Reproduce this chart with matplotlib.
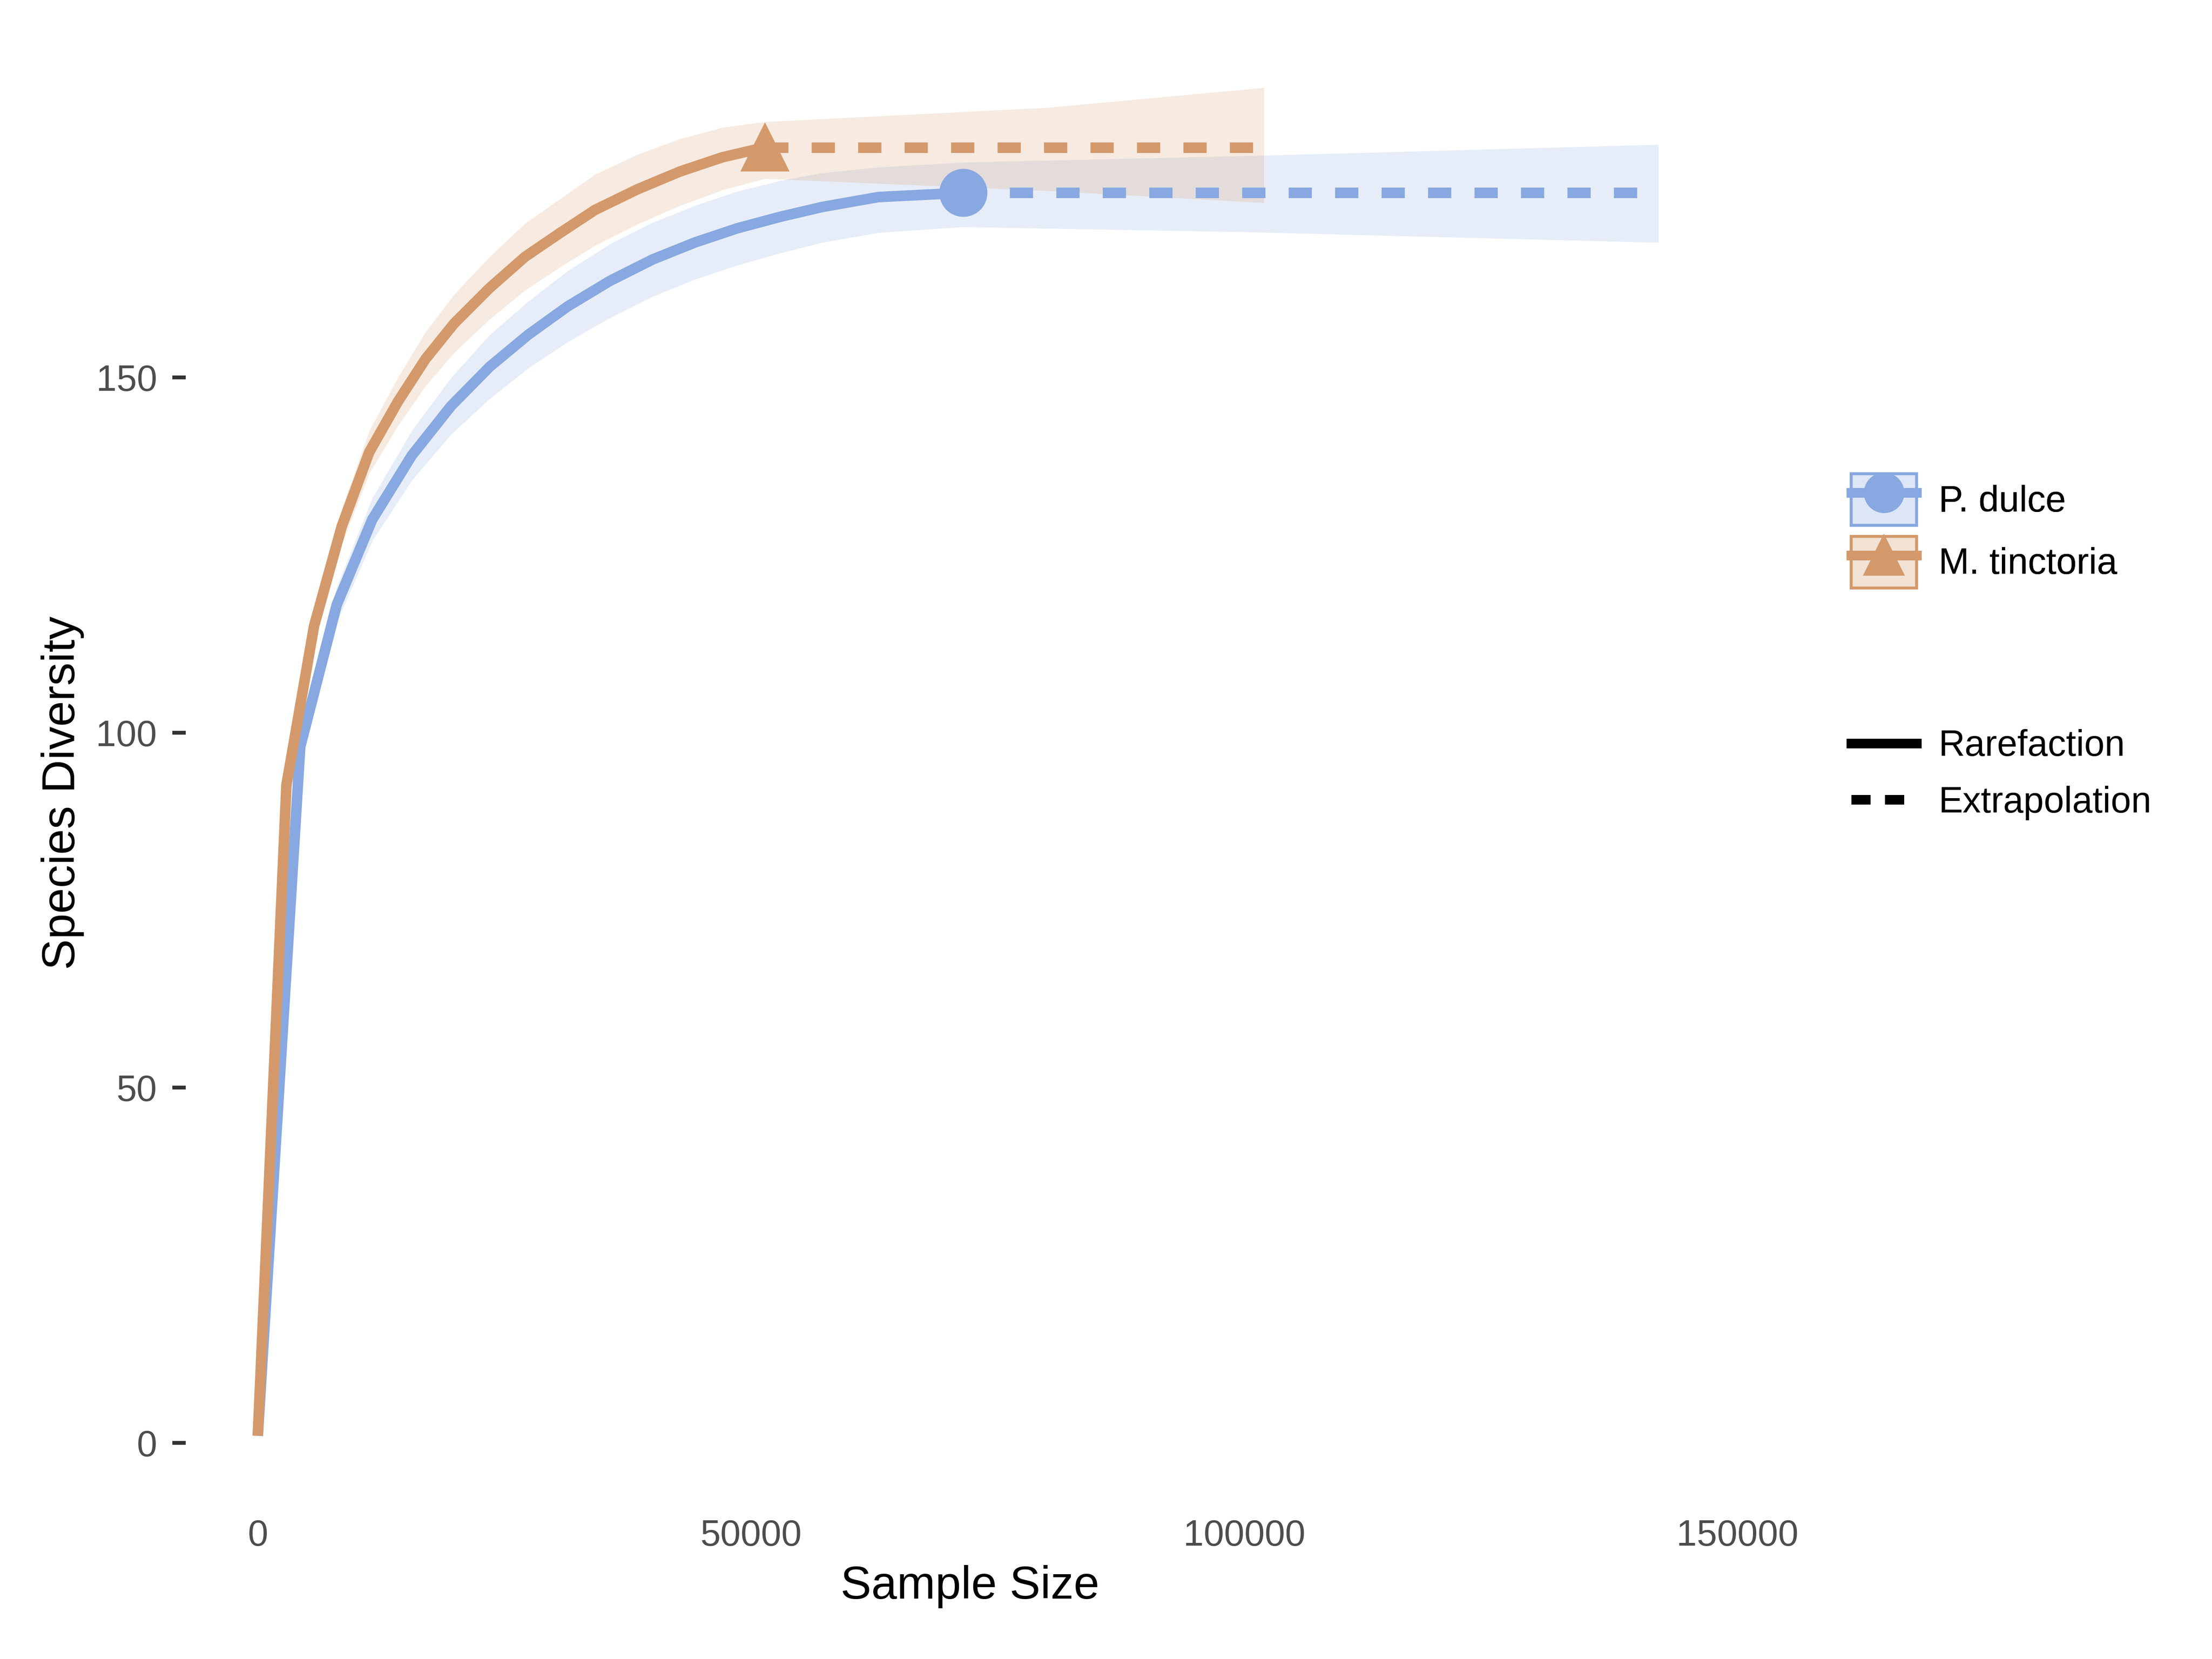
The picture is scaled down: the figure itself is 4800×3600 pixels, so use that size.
import numpy as np
import matplotlib.pyplot as plt
from matplotlib.lines import Line2D
from matplotlib.patches import Patch

plt.rcParams['font.family'] = ['Liberation Sans', 'DejaVu Sans']

# P. dulce (rarefaction part, then extrapolation)
pd_x = [0, 4300, 8000, 11600, 15600, 19600, 23500, 27400, 31400, 35700, 40000,
        44300, 48600, 52900, 57200, 62900, 71500]
pd_y = [1, 98, 118, 130, 139, 146, 151.5, 156, 160, 163.6, 166.6, 169, 171,
        172.6, 174, 175.4, 176]
pd_lo = [1, 96.5, 115.5, 127, 135.5, 142, 147, 151.3, 155, 158.4, 161.4, 163.8,
         165.8, 167.5, 169, 170.4, 171.2]
pd_hi = [1, 99.5, 120.5, 133, 142.5, 150, 156, 160.7, 165, 168.8, 171.8, 174.2,
         176.2, 177.7, 178.8, 179.6, 180.3]
pd_ext_x = [71500, 100000, 142000]
pd_ext_y = [176, 176, 176]
pd_ext_lo = [171.2, 170.5, 169]
pd_ext_hi = [180.3, 181.2, 182.8]

# M. tinctoria
mt_x = [0, 2900, 5700, 8500, 11300, 14200, 17000, 19900, 23500, 27100, 30700,
        34200, 38500, 42800, 47100, 51400]
mt_y = [1, 92.6, 115, 129, 139.5, 146.6, 152.6, 157.6, 162.6, 167, 170.4,
        173.6, 176.5, 179, 181, 182.4]
mt_lo = [1, 91.5, 113, 126.5, 136.5, 143.2, 148.8, 153.5, 158.2, 162.3, 165.6,
         168.6, 171.6, 174.2, 176.4, 178]
mt_hi = [1, 93.7, 117, 131.5, 142.5, 150, 156.4, 161.7, 167, 171.7, 175.2,
         178.6, 181.4, 183.6, 185.2, 186]
mt_ext_x = [51400, 80000, 102000]
mt_ext_y = [182.4, 182.4, 182.4]
mt_ext_lo = [178, 176.3, 174.6]
mt_ext_hi = [186, 188, 190.8]

blue = '#87a8e0'
orange = '#d4996a'

fig = plt.figure(figsize=(16, 12), dpi=300)
ax = fig.add_axes([0.084, 0.096, 0.709, 0.852])

for x, y, lo, hi, ex, ey, elo, ehi, c, m in [
        (pd_x, pd_y, pd_lo, pd_hi, pd_ext_x, pd_ext_y, pd_ext_lo, pd_ext_hi, blue, 'o'),
        (mt_x, mt_y, mt_lo, mt_hi, mt_ext_x, mt_ext_y, mt_ext_lo, mt_ext_hi, orange, '^')]:
    ax.fill_between(x + ex[1:], lo + elo[1:], hi + ehi[1:], color=c, alpha=0.2, lw=0)
    ax.plot(x, y, color=c, lw=5.5, solid_capstyle='butt')
    ax.plot(ex, ey, color=c, lw=5.5, ls=(0, (2.2, 2.2)))
    ax.plot(x[-1], y[-1], marker=m, color=c, ms=24, ls='none')

ax.set_xlim(-7300, 151700)
ax.set_ylim(-8, 191)
ax.set_xticks([0, 50000, 100000, 150000])
ax.set_yticks([0, 50, 100, 150])
for s in ax.spines.values():
    s.set_visible(False)
ax.tick_params(axis='x', length=0, labelsize=19, colors='#4d4d4d', pad=10)
ax.tick_params(axis='y', length=7, width=2, color='#333333', labelsize=19,
               labelcolor='#4d4d4d', pad=8)
ax.set_xlabel('Sample Size', fontsize=24, labelpad=6)
ax.set_ylabel('Species Diversity', fontsize=24, labelpad=6)

h1 = (Patch(facecolor=blue, alpha=0.15, edgecolor='none'), Patch(facecolor='none', edgecolor=blue, lw=1.5),
      Line2D([], [], color=blue, lw=5, marker='o', ms=20))
h2 = (Patch(facecolor=orange, alpha=0.15, edgecolor='none'), Patch(facecolor='none', edgecolor=orange, lw=1.5),
      Line2D([], [], color=orange, lw=5, marker='^', ms=20))
leg1 = fig.legend([h1, h2], ['P. dulce', 'M. tinctoria'], loc='center left',
                  bbox_to_anchor=(0.822, 0.68), frameon=False, fontsize=19,
                  handlelength=1.8, handleheight=1.8, labelspacing=0.3, handletextpad=0.6)
fig.add_artist(leg1)
h3 = Line2D([], [], color='black', lw=5)
h4 = Line2D([], [], color='black', lw=5, ls=(0, (2, 1.5)))
fig.legend([h3, h4], ['Rarefaction', 'Extrapolation'], loc='center left',
           bbox_to_anchor=(0.822, 0.533), frameon=False, fontsize=19,
           handlelength=1.8, labelspacing=0.6, handletextpad=0.6)

fig.savefig('out.png', dpi=300, facecolor='white')
